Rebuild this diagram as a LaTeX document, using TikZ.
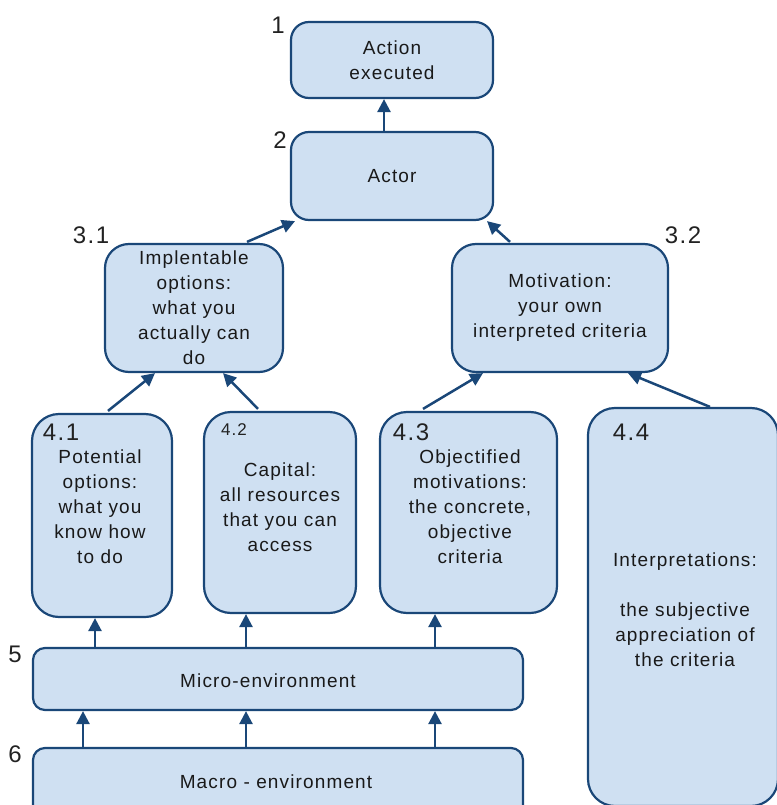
\documentclass[tikz,border=0pt]{standalone}
\usepackage{fontspec}
\setmainfont{Liberation Sans}
\newfontfamily\spacedfont[LetterSpace=6]{Liberation Sans}
\usetikzlibrary{arrows.meta,calc}
\definecolor{boxfill}{HTML}{CFE0F2}
\definecolor{boxline}{HTML}{1A4778}
\definecolor{numtext}{HTML}{222222}
\begin{document}
\begin{tikzpicture}[x=1pt,y=-1pt,
  box/.style={draw=boxline,fill=boxfill,line width=2.2pt,inner sep=0pt},
  txt/.style={align=center,font=\spacedfont\fontsize{19}{25}\selectfont,text=black!90,inner sep=0pt},
  num/.style={font=\spacedfont\fontsize{24}{28}\selectfont,text=numtext,inner sep=0pt},
  numsmall/.style={font=\spacedfont\fontsize{17}{20}\selectfont,text=numtext,inner sep=0pt},
  arr/.style={draw=boxline,line width=2.5pt,-{Triangle[length=13pt,width=13pt]}}]
\useasboundingbox (0,0) rectangle (776,805);
% boxes
\node[box,rounded corners=18pt,minimum width=202pt,minimum height=76pt] (b1) at (392,60) {};
\node[box,rounded corners=18pt,minimum width=202pt,minimum height=88pt] (b2) at (392,176) {};
\node[box,rounded corners=24pt,minimum width=178pt,minimum height=128pt] (b31) at (194,308) {};
\node[box,rounded corners=24pt,minimum width=216pt,minimum height=128pt] (b32) at (560,308) {};
\node[box,rounded corners=27pt,minimum width=140pt,minimum height=203pt] (b41) at (102,515.5) {};
\node[box,rounded corners=27pt,minimum width=152pt,minimum height=201pt] (b42) at (280,512.5) {};
\node[box,rounded corners=27pt,minimum width=177pt,minimum height=201pt] (b43) at (468.5,512.5) {};
\node[box,rounded corners=27pt,minimum width=190pt,minimum height=398pt] (b44) at (683,607) {};
\node[box,rounded corners=12pt,minimum width=490pt,minimum height=62pt] (b5) at (278,679) {};
\node[box,rounded corners=12pt,minimum width=490pt,minimum height=84pt] (b6) at (278,790) {};
% texts
\node[txt] (t1) at (392,60) {Action\\executed};
\node[txt] (t2) at (392,176) {Actor};
\node[txt] (t31) at (194,308) {Implentable\\options:\\what you\\actually can\\do};
\node[txt] (t32) at (560,308) {Motivation:\\your own\\interpreted criteria};
\node[txt] (t41) at (100,507) {Potential\\options:\\what you\\know how\\to do};
\node[txt] (t42) at (280,507) {Capital:\\all resources\\that you can\\access};
\node[txt] (t43) at (470,507) {Objectified\\motivations:\\the concrete,\\objective\\criteria};
\node[txt] (t44) at (685,610) {Interpretations:\\[25pt]the subjective\\appreciation of\\the criteria};
\node[txt] (t5) at (268,681) {Micro-environment};
\node[txt] (t6) at (276,782) {Macro - environment};
% numbers
\node[num] (n1) at (278,25) {1};
\node[num] (n2) at (280,140) {2};
\node[num] (n31) at (91,235) {3.1};
\node[num] (n32) at (683,235) {3.2};
\node[num] (n41) at (61,432) {4.1};
\node[numsmall] (n42) at (234,430) {4.2};
\node[num] (n43) at (411,432) {4.3};
\node[num] (n44) at (631,432) {4.4};
\node[num] (n5) at (15,654) {5};
\node[num] (n6) at (15,754) {6};
% arrows
\draw[arr] ([xshift=-8pt]b2.north) -- ([xshift=-8pt]b1.south);
\draw[arr] ([xshift=53pt,yshift=1pt]b31.north) -- ([xshift=-97pt]b2.south);
\draw[arr] ([xshift=-50pt,yshift=1pt]b32.north) -- ([xshift=95pt]b2.south);
\draw[arr] ([xshift=6pt,yshift=2pt]b41.north) -- ([xshift=-39pt]b31.south);
\draw[arr] ([xshift=-22pt,yshift=2pt]b42.north) -- ([xshift=29pt]b31.south);
\draw[arr] ([xshift=-45.5pt,yshift=2pt]b43.north) -- ([xshift=-77pt]b32.south);
\draw[arr] ([xshift=27pt]b44.north) -- ([xshift=68pt]b32.south);
\draw[arr] ([xshift=-183pt]b5.north) -- ([xshift=-7pt]b41.south);
\draw[arr] ([xshift=-32pt]b5.north) -- ([xshift=-34pt]b42.south);
\draw[arr] ([xshift=157pt]b5.north) -- ([xshift=-33.5pt]b43.south);
\draw[arr] ([xshift=-195pt]b6.north) -- ([xshift=-195pt]b5.south);
\draw[arr] ([xshift=-32pt]b6.north) -- ([xshift=-32pt]b5.south);
\draw[arr] ([xshift=157pt]b6.north) -- ([xshift=157pt]b5.south);
\end{tikzpicture}
\end{document}
